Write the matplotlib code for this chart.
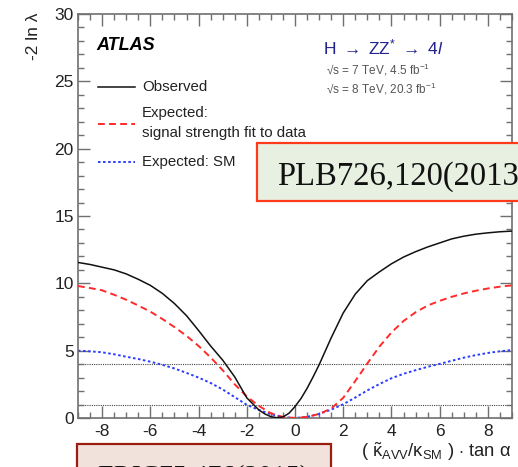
import matplotlib
matplotlib.use('Agg')
import matplotlib.pyplot as plt
from matplotlib.lines import Line2D
from matplotlib.patches import Rectangle
from matplotlib.ticker import MultipleLocator

# -2 ln(lambda) scans vs (kappa_AVV / kappa_SM) * tan(alpha)
OBS_X = [-9, -8.5, -8, -7.5, -7, -6.5, -6, -5.5, -5, -4.5, -4, -3.5, -3, -2.5, -2, -1.5,
         -1.25, -1, -0.75, -0.5, -0.25, 0, 0.25, 0.5, 0.75, 1, 1.5, 2, 2.5, 3, 3.5, 4,
         4.5, 5, 5.5, 6, 6.5, 7, 7.5, 8, 8.5, 9]
OBS_Y = [11.55, 11.4, 11.2, 11.0, 10.7, 10.3, 9.85, 9.25, 8.5, 7.6, 6.5, 5.35, 4.3, 3.05, 1.5, 0.6,
         0.3, 0.1, 0.02, 0.08, 0.35, 0.85, 1.45, 2.2, 3.05, 3.95, 5.95, 7.8, 9.2, 10.2, 10.85, 11.45,
         11.95, 12.35, 12.7, 13.0, 13.3, 13.5, 13.65, 13.75, 13.83, 13.88]

EXP_X = [-9, -8.5, -8, -7.5, -7, -6.5, -6, -5.5, -5, -4.5, -4, -3.5, -3, -2.5, -2, -1.5, -1, -0.5,
         0, 0.5, 1, 1.5, 2, 2.5, 3, 3.5, 4, 4.5, 5, 5.5, 6, 6.5, 7, 7.5, 8, 8.5, 9]
EXP_MU_Y = [9.8, 9.65, 9.48, 9.15, 8.78, 8.35, 7.9, 7.35, 6.75, 6.1, 5.35, 4.5, 3.55, 2.5, 1.6, 0.9,
            0.35, 0.08, 0.0, 0.08, 0.3, 0.7, 1.5, 2.75, 4.05, 5.3, 6.35, 7.2, 7.85, 8.35, 8.7, 9.0,
            9.25, 9.45, 9.62, 9.75, 9.85]
EXP_SM_Y = [5.0, 4.95, 4.88, 4.73, 4.55, 4.38, 4.18, 3.95, 3.68, 3.35, 3.0, 2.6, 2.12, 1.55, 0.98, 0.6,
            0.28, 0.07, 0.0, 0.08, 0.3, 0.62, 1.02, 1.52, 2.05, 2.52, 2.95, 3.28, 3.55, 3.8, 4.02, 4.25,
            4.48, 4.67, 4.83, 4.95, 5.05]

REF_LEVELS = [1, 4]

W, H = 518, 467

plt.rcParams['font.family'] = ['Liberation Sans', 'DejaVu Sans']
plt.rcParams['axes.unicode_minus'] = False
plt.rcParams['mathtext.fontset'] = 'custom'
plt.rcParams['mathtext.rm'] = 'Liberation Sans'
plt.rcParams['mathtext.it'] = 'Liberation Sans:italic'
plt.rcParams['mathtext.bf'] = 'Liberation Sans:bold'


def fx(x):
    return x / W


def fy(y):
    return 1 - y / H


fig = plt.figure(figsize=(W / 100, H / 100), dpi=100)
ax = fig.add_axes([fx(78), fy(418), (512 - 78) / W, (418 - 14) / H])

for lvl in REF_LEVELS:
    ax.axhline(lvl, color='#444444', lw=0.8, ls=(0, (1, 1)), zorder=1)

ax.plot(EXP_X, EXP_SM_Y, color='#2a3cff', lw=1.4, ls=(0, (1.3, 1.3)), zorder=2)
ax.plot(EXP_X, EXP_MU_Y, color='#ff2a2a', lw=1.4, ls=(0, (3.5, 2.2)), zorder=3)
ax.plot(OBS_X, OBS_Y, color='#111111', lw=1.1, zorder=4)

ax.set_xlim(-9, 9)
ax.set_ylim(0, 30)
ax.xaxis.set_major_locator(MultipleLocator(2))
ax.xaxis.set_minor_locator(MultipleLocator(0.5))
ax.yaxis.set_major_locator(MultipleLocator(5))
ax.yaxis.set_minor_locator(MultipleLocator(1))

for sp in ax.spines.values():
    sp.set_color('#707070')
    sp.set_linewidth(1.2)
ax.tick_params(which='both', direction='in', top=True, right=True, color='#707070', width=1.0,
               labelsize=12.5, labelcolor='#222222')
ax.tick_params(which='major', length=8.5)
ax.tick_params(which='minor', length=4.3)
ax.tick_params(axis='x', pad=4)
ax.tick_params(axis='y', pad=3)

# axis titles, ROOT style (top / right aligned)
fig.text(fx(33), fy(12), '-2 ln λ', rotation=90, ha='center', va='top', fontsize=12.5, color='#222222')
fig.text(fx(511), fy(452), r'( $\tilde{\mathrm{\kappa}}_{\mathrm{AVV}}/\mathrm{\kappa}_{\mathrm{SM}}$ ) $\cdot$ tan $\mathrm{\alpha}$',
         ha='right', va='center', fontsize=13.2, color='#222222')

fig.text(fx(96), fy(46), 'ATLAS', fontsize=13, fontweight='bold', fontstyle='italic', ha='left', va='center')
fig.text(fx(383), fy(47), r'H $\rightarrow$ ZZ$^{*}$ $\rightarrow$ 4$\mathit{l}$', fontsize=12.5,
         color='#22228f', ha='center', va='center')
fig.text(fx(326), fy(70), r'√s = 7 TeV, 4.5 fb$^{-1}$', fontsize=8.5, color='#555555', ha='left', va='center')
fig.text(fx(326), fy(89), r'√s = 8 TeV, 20.3 fb$^{-1}$', fontsize=8.5, color='#555555', ha='left', va='center')

# legend drawn by hand
fig.add_artist(Line2D([fx(98), fx(135)], [fy(87)] * 2, color='#111111', lw=1.1, transform=fig.transFigure))
fig.add_artist(Line2D([fx(98), fx(135)], [fy(124)] * 2, color='#ff2a2a', lw=1.4, ls=(0, (3.5, 2.2)),
                      transform=fig.transFigure))
fig.add_artist(Line2D([fx(98), fx(135)], [fy(162)] * 2, color='#2a3cff', lw=1.4, ls=(0, (1.3, 1.3)),
                      transform=fig.transFigure))
leg_kw = dict(fontsize=10.8, color='#222222', ha='left', va='center')
fig.text(fx(142), fy(87), 'Observed', **leg_kw)
fig.text(fx(142), fy(113), 'Expected:', **leg_kw)
fig.text(fx(142), fy(133), 'signal strength fit to data', **leg_kw)
fig.text(fx(142), fy(162), 'Expected: SM', **leg_kw)

# reference boxes
fig.add_artist(Rectangle((fx(257), fy(201)), (540 - 257) / W, (201 - 143) / H, transform=fig.transFigure,
                         facecolor='#e8f0e2', edgecolor='#ff3a1c', lw=1.6, clip_on=False))
fig.text(fx(277), fy(185), 'PLB726,120(2013', family='Liberation Serif', fontsize=23.5,
         ha='left', va='baseline', color='#111111')
fig.add_artist(Rectangle((fx(77), fy(490)), (331 - 77) / W, (490 - 444) / H, transform=fig.transFigure,
                         facecolor='#f2e2dc', edgecolor='#9b1c10', lw=1.6, clip_on=False))
fig.text(fx(97), fy(484), 'EPJC75,476(2015)', family='Liberation Serif', fontsize=20,
         ha='left', va='baseline', color='#111111')

fig.savefig('out.png', dpi=100)
